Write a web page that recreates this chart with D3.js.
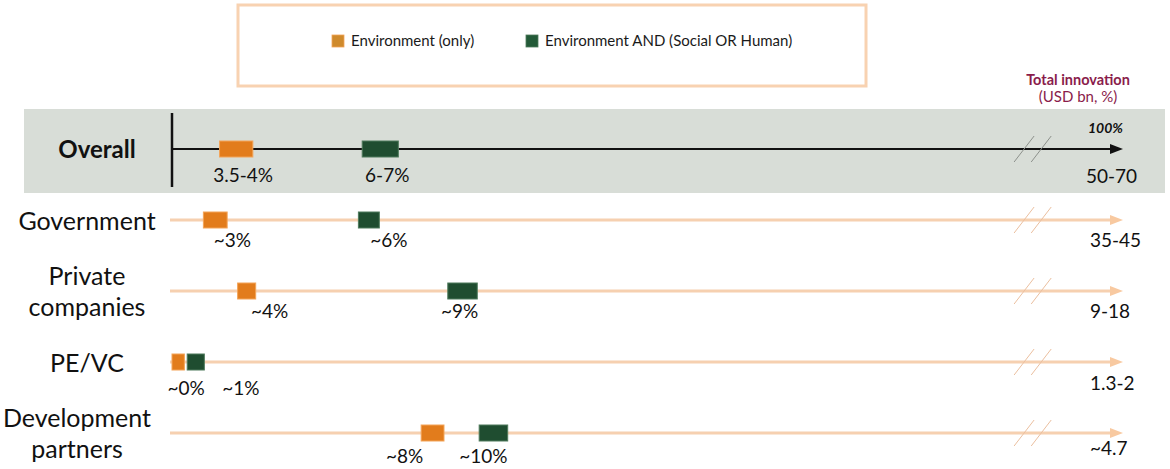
<!DOCTYPE html>
<html>
<head>
<meta charset="utf-8">
<script src="https://cdn.jsdelivr.net/npm/d3@7"></script>
<style>
  body { margin: 0; background: #fff; }
  svg { display: block; font-family: Lato, "Open Sans", sans-serif; }
</style>
</head>
<body>
<svg id="svg" width="1170" height="469"></svg>
<script>
const svg = d3.select("#svg");

const rows = ["Overall", "Government", "Private companies", "PE/VC", "Development partners"];
const rowLabelLines = [["Overall"], ["Government"], ["Private", "companies"], ["PE/VC"], ["Development", "partners"]];
const totals = ["50-70", "35-45", "9-18", "1.3-2", "~4.7"];
const seriesNames = ["Environment (only)", "Environment AND (Social OR Human)"];
const envOnlyLabels = ["3.5-4%", "~3%", "~4%", "~0%", "~8%"];
const envSocialLabels = ["6-7%", "~6%", "~9%", "~1%", "~10%"];
// where each box sits on the schematic axis (0 = start, 100 = arrow tip)
const envOnlySpan = [[5.0, 8.5], [3.3, 5.8], [6.9, 8.8], [0, 1.3], [26.2, 28.6]];
const envSocialSpan = [[20.0, 23.8], [19.6, 21.8], [29.0, 32.1], [1.6, 3.4], [32.3, 35.3]];

const colors = ["#e27c1c", "#1f4d30"];
const strokes = ["#f3a458", "#4f7b5c"];
const legendColors = ["#cf8a2c", "#235a38"];

// label nudges (px) so the text sits like in the original slide
const onlyNudge = [7, 17, 23, 8, -28];
const socialNudge = [7, 20, -3, 45, -10];
const labelDy = [33, 27, 27, 33, 30];
const totalDy = [34, 27, 27, 28, 22];

const x = d3.scaleLinear().domain([0, 100]).range([172, 1123]);
const y = d3.scalePoint().domain(rows).range([149, 433]);

// legend box
const legend = svg.append("g");
legend.append("rect")
  .attr("x", 238).attr("y", 5).attr("width", 628).attr("height", 81)
  .attr("fill", "#fff").attr("stroke", "#f8d2b1").attr("stroke-width", 3);

const legendX = [332, 526];
const items = legend.selectAll("g.item")
  .data(seriesNames)
  .join("g")
  .attr("class", "item")
  .attr("transform", (d, i) => `translate(${legendX[i]},35)`);
items.append("rect")
  .attr("width", 12).attr("height", 12)
  .attr("fill", (d, i) => legendColors[i])
  .attr("stroke", (d, i) => strokes[i]).attr("stroke-width", 0.8);
items.append("text")
  .attr("x", 19).attr("y", 11)
  .style("font-size", "15px")
  .style("fill", "#1a1a1a")
  .text((d) => d);

// header over the totals column
svg.append("text")
  .attr("x", 1078).attr("y", 85)
  .attr("text-anchor", "middle")
  .style("font-size", "14.5px").style("font-weight", "bold")
  .style("fill", "#8a1c4b")
  .text("Total innovation");
svg.append("text")
  .attr("x", 1078).attr("y", 102)
  .attr("text-anchor", "middle")
  .style("font-size", "15px")
  .style("fill", "#8a1c4b")
  .text("(USD bn, %)");

// grey band behind the overall row
svg.append("rect")
  .attr("x", 24).attr("y", y("Overall") - 40)
  .attr("width", 1141).attr("height", 84)
  .attr("fill", "#d8ddd7");

const rowG = svg.selectAll("g.row")
  .data(rows)
  .join("g")
  .attr("class", "row")
  .attr("transform", (d) => `translate(0,${y(d)})`);

// axis line + arrow
rowG.append("line")
  .attr("x1", (d, i) => (i ? x(0) - 2 : x(0)))
  .attr("x2", x(100) - 10)
  .attr("stroke", (d, i) => (i ? "#f6d0b0" : "#111"))
  .attr("stroke-width", (d, i) => (i ? 3 : 2));
rowG.append("path")
  .attr("d", `M${x(100)},0 L${x(100) - 13},-5 L${x(100) - 13},5 Z`)
  .attr("fill", (d, i) => (i ? "#f8c9a0" : "#111"));

// axis break slashes
rowG.selectAll("line.brk")
  .data((d, i) => [89.6, 91.4].map((p) => ({ p, i })))
  .join("line")
  .attr("class", "brk")
  .attr("x1", (d) => x(d.p) - 10).attr("y1", 13)
  .attr("x2", (d) => x(d.p) + 10).attr("y2", -13)
  .attr("stroke", (d) => (d.i ? "#ebbf9f" : "#8d918c"))
  .attr("stroke-width", 1);

// start tick on overall row
svg.append("line")
  .attr("x1", x(0)).attr("x2", x(0))
  .attr("y1", y("Overall") - 36).attr("y2", y("Overall") + 38)
  .attr("stroke", "#111").attr("stroke-width", 2.5);

svg.append("text")
  .attr("x", x(100)).attr("y", y("Overall") - 16)
  .attr("text-anchor", "end")
  .style("font-size", "14px").style("font-weight", "bold").style("font-style", "italic")
  .style("fill", "#111")
  .text("100%");

// boxes and their labels
const spans = [envOnlySpan, envSocialSpan];
const labels = [envOnlyLabels, envSocialLabels];
const nudges = [onlyNudge, socialNudge];

rowG.selectAll("rect.mark")
  .data((d, i) => spans.map((s, k) => ({ s: s[i], k })))
  .join("rect")
  .attr("class", "mark")
  .attr("x", (d) => x(d.s[0]))
  .attr("width", (d) => x(d.s[1]) - x(d.s[0]))
  .attr("y", -8).attr("height", 16)
  .attr("fill", (d) => colors[d.k])
  .attr("stroke", (d) => strokes[d.k]).attr("stroke-width", 1);

rowG.selectAll("text.val")
  .data((d, i) => spans.map((s, k) => ({
    cx: (x(s[i][0]) + x(s[i][1])) / 2 + nudges[k][i],
    t: labels[k][i],
    dy: labelDy[i]
  })))
  .join("text")
  .attr("class", "val")
  .attr("x", (d) => d.cx).attr("y", (d) => d.dy)
  .attr("text-anchor", "middle")
  .style("font-size", "19px").style("fill", "#111")
  .text((d) => d.t);

// totals
rowG.append("text")
  .attr("x", (d, i) => (i ? 1090 : 1086))
  .attr("y", (d, i) => totalDy[i])
  .style("font-size", "19px").style("fill", "#111")
  .text((d, i) => totals[i]);

// row names
const nameX = [97, 87, 87, 87, 77];
rowG.append("text")
  .attr("text-anchor", "middle")
  .style("font-size", (d, i) => (i ? "25px" : "24px"))
  .style("font-weight", (d, i) => (i ? null : "bold"))
  .style("fill", "#111")
  .selectAll("tspan")
  .data((d, i) => rowLabelLines[i].map((t, j, a) => ({ t, j, n: a.length, i })))
  .join("tspan")
  .attr("x", (d) => nameX[d.i])
  .attr("y", (d) => (d.n === 1 ? (d.i ? 10 : 9) : -6 + d.j * 31))
  .text((d) => d.t);
</script>
</body>
</html>
